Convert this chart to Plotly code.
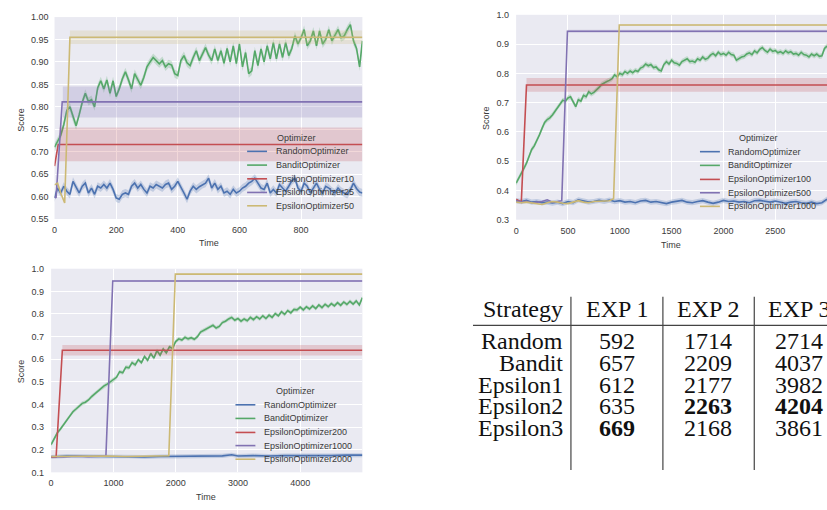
import plotly.graph_objects as go

W, H = 827, 510
def P(x): return x / W
def Q(y): return 1 - y / H

C_BLUE, C_GREEN, C_RED, C_PURPLE, C_YELLOW = "#4C72B0", "#55A868", "#C44E52", "#8172B2", "#CCB974"
def rgba(h, a):
    h = h.lstrip("#")
    return "rgba(%d,%d,%d,%.2f)" % (int(h[0:2], 16), int(h[2:4], 16), int(h[4:6], 16), a)

# ---------------- Panel 1 (Time 0..999) ----------------
t1 = list(range(0, 1000, 10)) + [999]
random1 = [0.597, 0.619, 0.608, 0.623, 0.612, 0.605, 0.634, 0.619, 0.608, 0.623,
           0.630, 0.608, 0.619, 0.605, 0.623, 0.619, 0.627, 0.619, 0.630, 0.616,
           0.597, 0.594, 0.605, 0.608, 0.605, 0.623, 0.630, 0.619, 0.627, 0.616,
           0.608, 0.623, 0.619, 0.627, 0.623, 0.619, 0.627, 0.630, 0.616, 0.623,
           0.634, 0.619, 0.608, 0.594, 0.612, 0.623, 0.616, 0.622, 0.627, 0.630,
           0.641, 0.619, 0.630, 0.616, 0.623, 0.608, 0.612, 0.605, 0.616, 0.608,
           0.612, 0.619, 0.623, 0.630, 0.634, 0.641, 0.630, 0.619, 0.616, 0.630,
           0.608, 0.616, 0.608, 0.627, 0.619, 0.612, 0.623, 0.635, 0.641, 0.619,
           0.612, 0.630, 0.623, 0.608, 0.619, 0.630, 0.616, 0.608, 0.623, 0.619,
           0.612, 0.608, 0.619, 0.612, 0.608, 0.605, 0.615, 0.630, 0.618, 0.610, 0.608]
bandit1 = [0.710, 0.722, 0.736, 0.760, 0.792, 0.800, 0.776, 0.758, 0.782, 0.810,
           0.830, 0.812, 0.816, 0.800, 0.842, 0.858, 0.840, 0.860, 0.830, 0.858,
           0.823, 0.840, 0.862, 0.878, 0.860, 0.840, 0.874, 0.860, 0.848, 0.866,
           0.889, 0.900, 0.910, 0.903, 0.896, 0.903, 0.889, 0.896, 0.893, 0.874,
           0.870, 0.903, 0.914, 0.898, 0.892, 0.910, 0.925, 0.903, 0.918, 0.932,
           0.915, 0.903, 0.929, 0.903, 0.925, 0.897, 0.930, 0.900, 0.936, 0.896,
           0.940, 0.889, 0.921, 0.874, 0.880, 0.925, 0.892, 0.929, 0.900, 0.936,
           0.907, 0.943, 0.907, 0.940, 0.910, 0.943, 0.914, 0.930, 0.958, 0.940,
           0.954, 0.972, 0.936, 0.947, 0.969, 0.936, 0.969, 0.940, 0.950, 0.972,
           0.947, 0.960, 0.972, 0.954, 0.958, 0.972, 0.983, 0.947, 0.930, 0.889, 0.947]
eps10_t = [0, 12, 999]
eps10 = [0.668, 0.716, 0.716]
eps10_band_t = [16, 999]
eps10_lo, eps10_hi = [0.679, 0.679], [0.754, 0.754]
eps25_t = [0, 5, 25, 999]
eps25 = [0.600, 0.597, 0.811, 0.811]
eps25_band_t = [27, 999]
eps25_lo, eps25_hi = [0.776, 0.776], [0.845, 0.845]
eps50_t = [0, 10, 20, 33, 50, 999]
eps50 = [0.626, 0.630, 0.608, 0.586, 0.955, 0.955]
eps50_band_t = [50, 999]
eps50_lo, eps50_hi = [0.940, 0.940], [0.970, 0.970]
names1 = ["RandomOptimizer", "BanditOptimizer", "EpsilonOptimizer10", "EpsilonOptimizer25", "EpsilonOptimizer50"]

# ---------------- Panel 2 (Time 0..2999) ----------------
t2 = list(range(0, 3000, 25)) + [2999]
bandit2 = [0.425, 0.440, 0.458, 0.475, 0.493, 0.515, 0.540, 0.552, 0.570, 0.590,
           0.612, 0.632, 0.642, 0.648, 0.658, 0.670, 0.685, 0.698, 0.708, 0.705,
           0.716, 0.720, 0.705, 0.686, 0.710, 0.705, 0.725, 0.720, 0.737, 0.730,
           0.735, 0.742, 0.752, 0.762, 0.768, 0.772, 0.776, 0.782, 0.795, 0.788,
           0.800, 0.795, 0.806, 0.800, 0.808, 0.802, 0.810, 0.806, 0.818, 0.822,
           0.832, 0.826, 0.830, 0.820, 0.822, 0.812, 0.808, 0.830, 0.840, 0.832,
           0.845, 0.836, 0.834, 0.828, 0.840, 0.846, 0.850, 0.840, 0.842, 0.838,
           0.850, 0.845, 0.856, 0.848, 0.852, 0.862, 0.868, 0.860, 0.872, 0.864,
           0.868, 0.862, 0.872, 0.864, 0.862, 0.845, 0.850, 0.856, 0.858, 0.866,
           0.870, 0.864, 0.877, 0.870, 0.882, 0.888, 0.878, 0.872, 0.883, 0.875,
           0.878, 0.870, 0.874, 0.868, 0.877, 0.870, 0.874, 0.866, 0.868, 0.862,
           0.872, 0.864, 0.862, 0.856, 0.866, 0.860, 0.866, 0.858, 0.860, 0.885, 0.893]
t2r = list(range(0, 3000, 50)) + [2999]
random2 = [0.365, 0.362, 0.366, 0.360, 0.362, 0.358, 0.360, 0.357, 0.360, 0.355,
           0.362, 0.358, 0.368, 0.364, 0.360, 0.362, 0.366, 0.363, 0.367, 0.362,
           0.365, 0.360, 0.362, 0.358, 0.364, 0.366, 0.360, 0.362, 0.358, 0.355,
           0.360, 0.362, 0.366, 0.360, 0.358, 0.362, 0.365, 0.360, 0.356, 0.360,
           0.366, 0.362, 0.364, 0.360, 0.362, 0.358, 0.365, 0.366, 0.362, 0.360,
           0.364, 0.360, 0.356, 0.360, 0.362, 0.358, 0.356, 0.360, 0.355, 0.358, 0.370]
eps100_t = [0, 50, 100, 2999]
eps100 = [0.370, 0.360, 0.760, 0.760]
eps100_band_t = [100, 2999]
eps100_lo, eps100_hi = [0.737, 0.737], [0.784, 0.784]
eps500_t = [0, 50, 100, 150, 200, 250, 300, 350, 400, 440, 495, 2999]
eps500 = [0.365, 0.360, 0.363, 0.358, 0.360, 0.362, 0.368, 0.360, 0.362, 0.365, 0.944, 0.944]
eps500_band_t = [495, 2999]
eps500_lo, eps500_hi = [0.939, 0.939], [0.949, 0.949]
eps1000_t = [0, 50, 100, 150, 200, 250, 300, 350, 400, 450, 500, 550, 600, 650, 700,
             750, 800, 850, 900, 940, 995, 2999]
eps1000 = [0.360, 0.358, 0.360, 0.357, 0.355, 0.352, 0.358, 0.362, 0.360, 0.356, 0.355,
           0.360, 0.365, 0.360, 0.358, 0.362, 0.363, 0.365, 0.365, 0.372, 0.965, 0.965]
eps1000_band_t = [995, 2999]
eps1000_lo, eps1000_hi = [0.962, 0.962], [0.968, 0.968]
names2 = ["RandomOptimizer", "BanditOptimizer", "EpsilonOptimizer100", "EpsilonOptimizer500", "EpsilonOptimizer1000"]

# ---------------- Panel 3 (Time 0..4999) ----------------
t3 = list(range(0, 5000, 50)) + [4999]
bandit3 = [0.223, 0.250, 0.275, 0.292, 0.312, 0.330, 0.352, 0.368, 0.380, 0.394,
           0.405, 0.410, 0.420, 0.435, 0.447, 0.460, 0.472, 0.482, 0.490, 0.500,
           0.506, 0.520, 0.545, 0.540, 0.565, 0.562, 0.585, 0.575, 0.598, 0.585,
           0.612, 0.595, 0.625, 0.605, 0.638, 0.618, 0.645, 0.628, 0.655, 0.648,
           0.678, 0.690, 0.685, 0.697, 0.690, 0.695, 0.688, 0.700, 0.720, 0.728,
           0.735, 0.745, 0.750, 0.738, 0.745, 0.762, 0.768, 0.778, 0.785, 0.772,
           0.780, 0.768, 0.778, 0.770, 0.785, 0.775, 0.788, 0.778, 0.792, 0.780,
           0.795, 0.785, 0.802, 0.792, 0.810, 0.798, 0.815, 0.805, 0.820, 0.818,
           0.830, 0.818, 0.832, 0.822, 0.836, 0.824, 0.840, 0.828, 0.843, 0.832,
           0.846, 0.836, 0.850, 0.838, 0.853, 0.842, 0.856, 0.844, 0.858, 0.840, 0.872]
t3r = [0, 250, 500, 750, 1000, 1250, 1500, 1750, 2000, 2250, 2500, 2750, 2900, 3000,
       3250, 3500, 3750, 4000, 4250, 4500, 4750, 4999]
random3 = [0.168, 0.172, 0.171, 0.170, 0.169, 0.171, 0.168, 0.170, 0.170, 0.172, 0.171,
           0.173, 0.178, 0.172, 0.174, 0.172, 0.174, 0.173, 0.175, 0.174, 0.176, 0.176]
eps200_t = [0, 80, 180, 4999]
eps200 = [0.168, 0.168, 0.640, 0.640]
eps200_band_t = [180, 4999]
eps200_lo, eps200_hi = [0.616, 0.616], [0.663, 0.663]
eps1k_t = [0, 200, 400, 600, 880, 990, 4999]
eps1k = [0.170, 0.168, 0.171, 0.169, 0.172, 0.946, 0.946]
eps1k_band_t = [990, 4999]
eps1k_lo, eps1k_hi = [0.941, 0.941], [0.950, 0.950]
eps2k_t = [0, 300, 600, 900, 1200, 1500, 1890, 1995, 4999]
eps2k = [0.170, 0.171, 0.169, 0.172, 0.170, 0.171, 0.173, 0.976, 0.976]
eps2k_band_t = [1995, 4999]
eps2k_lo, eps2k_hi = [0.973, 0.973], [0.979, 0.979]
names3 = ["RandomOptimizer", "BanditOptimizer", "EpsilonOptimizer200", "EpsilonOptimizer1000", "EpsilonOptimizer2000"]

ci_noisy = 0.009  # half-width of the thin bands around Random / Bandit curves

# ---------------- Table ----------------
strategies = ["Random", "Bandit", "Epsilon1", "Epsilon2", "Epsilon3"]
exp_cols = ["EXP 1", "EXP 2", "EXP 3"]
exp1 = [592, 657, 612, 635, 669]
exp2 = [1714, 2209, 2177, 2263, 2168]
exp3 = [2714, 4037, 3982, 4204, 3861]

fig = go.Figure()

def band(t, lo, hi, color, xa, ya, alpha=0.22):
    fig.add_trace(go.Scatter(x=list(t) + list(t)[::-1], y=list(hi) + list(lo)[::-1],
                             fill="toself", fillcolor=rgba(color, alpha), line=dict(width=0),
                             mode="lines", hoverinfo="skip", showlegend=False, xaxis=xa, yaxis=ya))

def line(t, v, color, xa, ya, name):
    fig.add_trace(go.Scatter(x=t, y=v, mode="lines", line=dict(color=color, width=1.6),
                             name=name, showlegend=False, xaxis=xa, yaxis=ya))

def noisy(t, v, color, xa, ya, name):
    band(t, [a - ci_noisy for a in v], [a + ci_noisy for a in v], color, xa, ya, 0.25)
    line(t, v, color, xa, ya, name)

# panel 1
noisy(t1, random1, C_BLUE, "x", "y", names1[0])
noisy(t1, bandit1, C_GREEN, "x", "y", names1[1])
band(eps10_band_t, eps10_lo, eps10_hi, C_RED, "x", "y"); line(eps10_t, eps10, C_RED, "x", "y", names1[2])
band(eps25_band_t, eps25_lo, eps25_hi, C_PURPLE, "x", "y"); line(eps25_t, eps25, C_PURPLE, "x", "y", names1[3])
band(eps50_band_t, eps50_lo, eps50_hi, C_YELLOW, "x", "y"); line(eps50_t, eps50, C_YELLOW, "x", "y", names1[4])
# panel 2
noisy(t2r, random2, C_BLUE, "x2", "y2", names2[0])
noisy(t2, bandit2, C_GREEN, "x2", "y2", names2[1])
band(eps100_band_t, eps100_lo, eps100_hi, C_RED, "x2", "y2"); line(eps100_t, eps100, C_RED, "x2", "y2", names2[2])
band(eps500_band_t, eps500_lo, eps500_hi, C_PURPLE, "x2", "y2"); line(eps500_t, eps500, C_PURPLE, "x2", "y2", names2[3])
band(eps1000_band_t, eps1000_lo, eps1000_hi, C_YELLOW, "x2", "y2"); line(eps1000_t, eps1000, C_YELLOW, "x2", "y2", names2[4])
# panel 3
noisy(t3r, random3, C_BLUE, "x3", "y3", names3[0])
noisy(t3, bandit3, C_GREEN, "x3", "y3", names3[1])
band(eps200_band_t, eps200_lo, eps200_hi, C_RED, "x3", "y3"); line(eps200_t, eps200, C_RED, "x3", "y3", names3[2])
band(eps1k_band_t, eps1k_lo, eps1k_hi, C_PURPLE, "x3", "y3"); line(eps1k_t, eps1k, C_PURPLE, "x3", "y3", names3[3])
band(eps2k_band_t, eps2k_lo, eps2k_hi, C_YELLOW, "x3", "y3"); line(eps2k_t, eps2k, C_YELLOW, "x3", "y3", names3[4])

SANS = "Liberation Sans, Arial, sans-serif"
TXT = "#3a3a3a"
ax_common = dict(showgrid=True, gridcolor="white", gridwidth=1.2, zeroline=False, showline=False,
                 ticks="", tickfont=dict(family=SANS, size=9, color=TXT))

fig.update_layout(
    width=W, height=H, autosize=False, margin=dict(l=0, r=0, t=0, b=0),
    paper_bgcolor="white", plot_bgcolor="#EAEAF2", showlegend=False,
    xaxis=dict(ax_common, domain=[P(51.7), P(360.7)], range=[0, 999], dtick=200, anchor="y", ticklabelstandoff=4),
    yaxis=dict(ax_common, domain=[Q(218.3), Q(12.3)], range=[0.55, 1.0], dtick=0.05, tickformat=".2f", anchor="x", ticklabelstandoff=5),
    xaxis2=dict(ax_common, domain=[P(515), 1.0], range=[0, 2999], dtick=500, anchor="y2", ticklabelstandoff=4),
    yaxis2=dict(ax_common, domain=[Q(219), Q(10)], range=[0.3, 1.0], dtick=0.1, tickformat=".1f", anchor="x2", ticklabelstandoff=6),
    xaxis3=dict(ax_common, domain=[P(48.3), P(360.7)], range=[0, 4999], dtick=1000, anchor="y3", ticklabelstandoff=4),
    yaxis3=dict(ax_common, domain=[Q(476.7), Q(269)], range=[0.1, 1.0], dtick=0.1, tickformat=".1f", anchor="x3", ticklabelstandoff=6),
)

ann = []
shapes = []
def text(x, y, s, size=9, xanchor="center", family=SANS, color=TXT, angle=0):
    ann.append(dict(x=P(x), y=Q(y), xref="paper", yref="paper", text=s, showarrow=False,
                    xanchor=xanchor, yanchor="middle", textangle=angle,
                    font=dict(family=family, size=size, color=color)))

# axis titles
text(18.3, 116.7, "Score", angle=-90); text(206.5, 242.7, "Time")
text(485, 115, "Score", angle=-90); text(670, 244.3, "Time")
text(18.3, 373.3, "Score", angle=-90); text(204, 502.3, "Time")

# legends
colors = [C_BLUE, C_GREEN, C_RED, C_PURPLE, C_YELLOW]
def legend(names, title_xy, lx0, lx1, tx, ys):
    text(title_xy[0], title_xy[1], "Optimizer")
    for nm, c, y in zip(names, colors, ys):
        shapes.append(dict(type="line", xref="paper", yref="paper", x0=P(lx0), x1=P(lx1),
                           y0=Q(y), y1=Q(y), line=dict(color=c, width=1.6)))
        text(tx, y, nm, xanchor="left")

legend(names1, (294.5, 135.3), 245, 265, 271.5, [149.3, 163.3, 177.3, 191.2, 204.8])
legend(names2, (758.5, 135.3), 699.5, 719.5, 726, [149.6, 163.6, 177.9, 191.5, 205.4])
legend(names3, (293.3, 393.3), 233.3, 253.3, 260, [407.8, 421.7, 436, 449.4, 463.3])

# table
SERIF = "Liberation Serif, Times New Roman, serif"
TS = 24
col_cx = [616.3, 708, 798.8]
row_y = [343.0, 365.5, 387.6, 409.5, 431.2]
text(564, 310.5, "Strategy", size=TS, xanchor="right", family=SERIF, color="#111")
for cx, h in zip(col_cx, exp_cols):
    text(cx, 310.5, h, size=TS, family=SERIF, color="#111")
cols = [exp1, exp2, exp3]
for i, (nm, y) in enumerate(zip(strategies, row_y)):
    text(564, y, nm, size=TS, xanchor="right", family=SERIF, color="#111")
    for cx, col in zip(col_cx, cols):
        v = col[i]
        s = "<b>%d</b>" % v if v == max(col) else "%d" % v
        text(cx, y, s, size=TS, family=SERIF, color="#111")

shapes.append(dict(type="line", xref="paper", yref="paper", x0=P(471.7), x1=1.0,
                   y0=Q(326.7), y1=Q(326.7), line=dict(color="#444", width=1.2)))
for vx in [570, 662.3, 754]:
    shapes.append(dict(type="line", xref="paper", yref="paper", x0=P(vx), x1=P(vx),
                       y0=Q(297.7), y1=Q(474.3), line=dict(color="#444", width=1.2)))

fig.update_layout(annotations=ann, shapes=shapes)
fig.write_html("out.html", config={"displayModeBar": False},
               post_script="document.body.style.margin='0px';document.body.style.overflow='hidden';")
